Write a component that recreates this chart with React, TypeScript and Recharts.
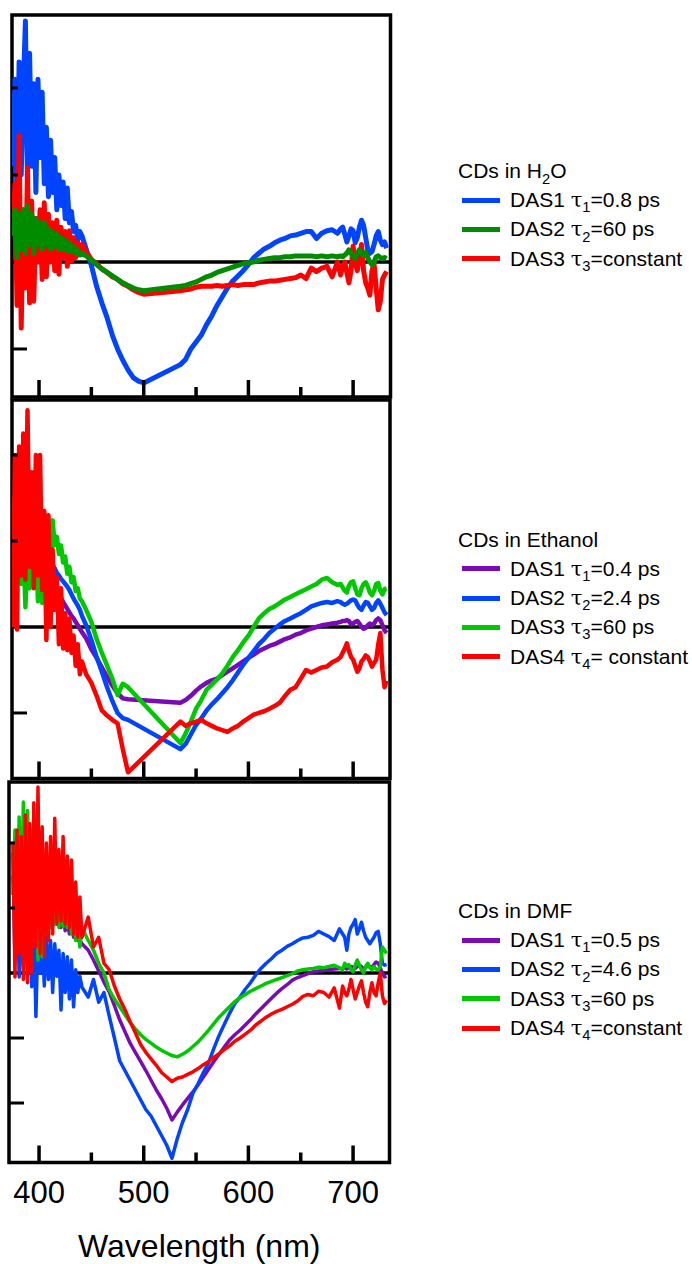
import React from 'react';
import { LineChart, Line, XAxis, YAxis, ReferenceLine, ReferenceArea, Legend } from 'recharts';

const FONT = '"Liberation Sans", Arial, Helvetica, sans-serif';

// ---------- wavelength grids (nm) ----------
const wavelengths12 = [
  375, 377, 379, 381, 383, 385, 387, 389, 391, 393, 395, 397, 399, 401, 403, 405, 407, 409, 411, 413,
  415, 417, 419, 421, 423, 425, 427, 429, 431, 433, 435, 437, 439, 441,
  445, 450, 455, 460, 465, 470, 475, 480, 485, 490, 495, 500, 505, 510, 515, 520, 525, 530, 535, 540,
  545, 550, 555, 560, 565, 570, 575, 580, 585, 590, 595, 600, 605, 610, 615, 620, 625, 630, 635, 640,
  645, 650, 655, 660, 665, 670, 675, 680, 685,
  688, 690, 692, 694, 696, 698, 700, 702, 704, 706, 708, 710, 712, 714, 716, 718, 720, 722, 724, 726,
  728, 730, 732,
];
const wavelengths3 = [
  375, 377, 379, 381, 383, 385, 387, 389, 391, 393, 395, 397, 399, 401, 403, 405, 407, 409, 411, 413,
  415, 417, 419, 421, 423, 425, 427, 429, 431, 433, 435, 437, 439, 441,
  447, 452, 457, 462, 467, 472, 477, 482, 487, 492, 497, 502, 507, 512, 517, 522, 527, 532, 537, 542,
  547, 552, 557, 562, 567, 572, 577, 582, 587, 592, 597, 602, 607, 612, 617, 622, 627, 632, 637, 642,
  647, 652, 657, 662, 667, 672, 677, 682, 687,
  690, 692, 694, 696, 698, 700, 702, 704, 706, 708, 710, 712, 714, 716, 718, 720, 722, 724, 726, 728,
  730, 732,
];

// ---------- CDs in H2O ----------
const h2oDas1 = [
  1.1, 2.1, 0.7, 2.3, 1.0, 2.0, 2.77, 0.9, 2.4, 1.1, 2.05, 0.8, 2.1, 1.2, 1.95, 0.9, 1.55, 0.75, 1.4, 0.8,
  1.2, 0.6, 1.0, 0.65, 0.92, 0.5, 0.85, 0.45, 0.58, 0.35, 0.42, 0.25, 0.35, 0.3,
  0.15, -0.04, -0.28, -0.47, -0.64, -0.84, -1.0, -1.13, -1.24, -1.33, -1.37, -1.39, null, null, null, null, null, null,
  -1.18, -1.12, -1.0, -0.92, -0.84, -0.72, -0.62, -0.5, -0.4, -0.3, -0.22, -0.16, -0.1, -0.03, 0.05, 0.1,
  0.15, 0.18, 0.22, 0.25, 0.27, 0.3, 0.31, 0.33, 0.35, 0.35, 0.27, 0.33, 0.36, 0.37, 0.33,
  0.38, 0.4, 0.32, 0.23, 0.3, 0.38, 0.36, 0.22, 0.28, 0.4, 0.48, 0.42, 0.28, 0.14, 0.1, 0.12, 0.2, 0.3,
  0.35, 0.25, 0.2, 0.23, 0.16,
];
const h2oDas2 = [
  0.3, 0.6, 0.05, 0.55, 0.15, 0.6, 0.1, 0.65, 0.2, 0.55, 0.1, 0.5, 0.2, 0.45, 0.15, 0.45, 0.2, 0.38, 0.15, 0.35,
  0.18, 0.32, 0.15, 0.28, 0.15, 0.25, 0.12, 0.22, 0.12, 0.18, 0.1, 0.14, 0.08, 0.1,
  0.07, 0.02, -0.03, -0.08, -0.12, -0.16, -0.2, -0.24, -0.27, -0.3, -0.32, -0.33, null, null, null, null, null, null,
  -0.28, -0.27, -0.25, -0.23, -0.2, -0.17, -0.15, -0.12, -0.1, -0.08, -0.06, -0.04, -0.02, -0.01, 0.0, 0.02,
  0.03, 0.04, 0.05, 0.05, 0.06, 0.06, 0.07, 0.07, 0.07, 0.07, 0.06, 0.07, 0.06, 0.07, 0.06,
  0.07, 0.06, 0.08, 0.1, 0.14, 0.1, 0.06, 0.04, 0.1, 0.14, 0.1, 0.08, 0.11, 0.05, 0.0, -0.03, 0.0, 0.06,
  0.07, 0.05, 0.04, 0.05, 0.04,
];
const h2oDas3 = [
  0.3, 0.9, -0.5, 1.46, -0.76, 0.6, -0.3, 1.08, -0.47, 0.7, -0.45, 0.5, 0.0, 0.6, -0.2, 0.68, -0.17, 0.55, 0.0, 0.45,
  -0.1, 0.48, -0.14, 0.4, 0.05, 0.35, -0.05, 0.36, 0.01, 0.28, 0.05, 0.22, 0.1, 0.2,
  0.12, 0.03, -0.02, -0.08, -0.12, -0.17, -0.2, -0.25, -0.28, -0.32, -0.35, -0.37, null, null, null, null, null, null,
  -0.33, -0.32, -0.31, -0.29, -0.28, -0.28, -0.28, -0.27, -0.28, -0.27, -0.26, -0.27, -0.26, -0.26, -0.26, -0.24,
  -0.23, -0.22, -0.22, -0.21, -0.2, -0.19, -0.18, -0.15, -0.19, -0.07, -0.11, -0.07, -0.05, -0.17, 0.0,
  -0.15, -0.05, 0.0, -0.12, -0.24, -0.1, 0.18, 0.0, -0.1, 0.05, 0.2, -0.1, -0.24, -0.3, -0.38, -0.1, -0.02, -0.3,
  -0.55, -0.45, -0.2, -0.15, -0.11,
];

// ---------- CDs in Ethanol ----------
const ethDas1 = [
  1.25, 1.1, 1.3, 1.15, 1.25, 1.05, 1.2, 1.0, 1.1, 0.95, 1.0, 0.9, 0.95, 0.85, 0.85, 0.8, 0.78, 0.74, 0.7, 0.62,
  0.55, 0.47, 0.4, 0.34, 0.29, 0.25, 0.21, 0.17, 0.13, 0.1, 0.06, 0.02, -0.02, -0.06,
  -0.13, -0.26, -0.36, -0.47, -0.58, -0.68, -0.77, -0.83, -0.84, null, null, null, null, null, null, null, null, null,
  -0.88, -0.85, -0.8, -0.74, -0.69, -0.65, -0.62, -0.6, -0.56, -0.52, -0.48, -0.44, -0.4, -0.36, -0.32, -0.28,
  -0.25, -0.22, -0.2, -0.17, -0.14, -0.12, -0.09, -0.07, -0.04, -0.02, 0.0, 0.02, 0.03, 0.04, 0.05,
  0.06, 0.07, 0.07, 0.08, 0.07, 0.03, 0.04, 0.06, 0.07, 0.04, 0.0, -0.02, -0.01, 0.02, 0.04, 0.02, 0.04, 0.08,
  0.1, 0.08, 0.02, -0.04, -0.07,
];
const ethDas2 = [
  1.3, 1.1, 1.35, 1.15, 1.3, 1.1, 1.25, 1.05, 1.2, 1.0, 1.1, 0.95, 1.05, 0.9, 0.95, 0.85, 0.85, 0.8, 0.76, 0.72,
  0.68, 0.63, 0.6, 0.56, 0.53, 0.5, 0.47, 0.43, 0.38, 0.33, 0.29, 0.25, 0.2, 0.13,
  0.02, -0.15, -0.35, -0.52, -0.7, -0.86, -1.0, -1.06, -1.08, null, null, null, null, null, null, null, null, null,
  -1.42, -1.36, -1.25, -1.14, -1.06, -0.97, -0.9, -0.84, -0.77, -0.7, -0.62, -0.53, -0.44, -0.36, -0.28, -0.2,
  -0.14, -0.07, -0.02, 0.03, 0.07, 0.1, 0.13, 0.16, 0.2, 0.24, 0.26, 0.28, 0.29, 0.28, 0.3,
  0.29, 0.27, 0.26, 0.27, 0.29, 0.31, 0.32, 0.31, 0.26, 0.22, 0.2, 0.25, 0.29, 0.28, 0.24, 0.2, 0.22, 0.28,
  0.31, 0.27, 0.22, 0.17, 0.14,
];
const ethDas3 = [
  0.9, 1.5, 0.6, 1.2, 0.5, 1.0, 0.23, 0.9, 0.45, 1.1, 0.6, 1.0, 0.3, 0.9, 0.28, 1.0, 0.7, 1.1, 0.8, 1.24,
  0.95, 1.05, 0.85, 0.95, 0.75, 0.82, 0.62, 0.7, 0.52, 0.58, 0.42, 0.45, 0.33, 0.3,
  0.2, 0.06, -0.14, -0.3, -0.45, -0.6, -0.79, -0.66, -0.7, null, null, null, null, null, null, null, null, null,
  -1.35, -1.24, -1.1, -0.95, -0.85, -0.73, -0.67, -0.61, -0.54, -0.45, -0.35, -0.27, -0.18, -0.1, 0.0, 0.1,
  0.16, 0.21, 0.24, 0.28, 0.32, 0.35, 0.38, 0.41, 0.44, 0.47, 0.5, 0.55, 0.57, 0.52, 0.49,
  0.5, 0.46, 0.42, 0.4, 0.48, 0.52, 0.53, 0.45, 0.38, 0.37, 0.45, 0.5, 0.52, 0.47, 0.4, 0.37, 0.42, 0.5,
  0.51, 0.42, 0.38, 0.44, 0.45,
];
const ethDas4 = [
  0.0, 2.0, -0.03, 2.1, 0.6, 2.25, 0.55, 2.52, 0.7, 1.8, 0.45, 2.0, 0.6, 2.0, 0.43, 1.35, -0.15, 1.3, 0.0, 0.9,
  0.2, 0.58, -0.2, 0.45, -0.25, 0.16, -0.27, 0.1, -0.3, -0.1, -0.45, -0.2, -0.55, -0.4,
  -0.55, -0.65, -0.8, -0.97, -1.03, -1.08, -1.12, -1.42, -1.69, null, null, null, null, null, null, null, null, null,
  -1.1, -1.15, -1.12, -1.1, -1.08, -1.12, -1.15, -1.18, -1.2, -1.22, -1.18, -1.15, -1.1, -1.06, -1.02, -1.0,
  -0.98, -0.95, -0.92, -0.88, -0.8, -0.73, -0.7, -0.6, -0.5, -0.53, -0.5, -0.47, -0.46, -0.41, -0.38,
  -0.35, -0.3, -0.25, -0.19, -0.28, -0.35, -0.38, -0.45, -0.52, -0.48, -0.4, -0.37, -0.33, -0.35, -0.4, -0.46, -0.42, -0.38,
  -0.2, -0.07, -0.5, -0.7, -0.62,
];

// ---------- CDs in DMF ----------
const dmfDas1 = [
  1.5, 0.8, 1.8, 0.6, 1.6, 0.9, 1.7, 0.8, 1.6, 0.9, 1.5, 0.8, 1.5, 0.9, 1.4, 0.9, 1.3, 0.8, 1.2, 0.8,
  1.1, 0.75, 1.0, 0.7, 0.9, 0.65, 0.8, 0.6, 0.7, 0.55, 0.6, 0.5, 0.5, 0.45,
  0.35, 0.2, 0.03, -0.14, -0.29, -0.5, -0.72, -0.9, -1.08, -1.22, -1.36, -1.5, -1.65, -1.8, -1.93, -2.08, -2.26, -2.14,
  -2.03, -1.93, -1.83, -1.72, -1.6, -1.48, -1.36, -1.25, -1.14, -1.03, -0.95, -0.88, -0.8, -0.72, -0.63, -0.55,
  -0.47, -0.39, -0.31, -0.24, -0.18, -0.11, -0.07, -0.04, -0.01, 0.02, 0.03, 0.04, 0.05, 0.06, 0.07,
  0.07, 0.08, 0.06, 0.08, 0.1, 0.09, 0.07, 0.1, 0.12, 0.1, 0.06, 0.08, 0.12, 0.1, 0.08, 0.13, 0.17, 0.15,
  0.08, 0.0, -0.06, -0.05,
];
const dmfDas2 = [
  1.85, 0.2, 1.5, -0.06, 1.0, 0.1, 1.1, 0.0, 0.9, -0.21, 0.8, -0.67, 0.6, 0.0, 0.62, -0.2, 0.55, -0.1, 0.5, -0.3,
  0.45, -0.05, 0.35, -0.57, 0.3, -0.3, 0.25, -0.4, 0.2, -0.52, 0.05, -0.3, -0.05, -0.22,
  -0.37, -0.1, -0.45, -0.3, -0.66, -1.0, -1.35, -1.5, -1.65, -1.8, -1.95, -2.1, -2.2, -2.35, -2.5, -2.65, -2.85, -2.55,
  -2.3, -2.1, -1.85, -1.7, -1.53, -1.38, -1.16, -0.96, -0.79, -0.62, -0.47, -0.37, -0.25, -0.15, -0.03, 0.07,
  0.15, 0.22, 0.3, 0.35, 0.41, 0.45, 0.5, 0.54, 0.55, 0.58, 0.64, 0.6, 0.56, 0.5, 0.68,
  0.6, 0.55, 0.35, 0.6, 0.7, 0.75, 0.82, 0.6, 0.68, 0.78, 0.65, 0.55, 0.5, 0.45, 0.5, 0.55, 0.62, 0.64,
  0.45, 0.15, 0.12, 0.13,
];
const dmfDas3 = [
  1.2, 2.2, 0.5, 2.4, 0.8, 2.63, 0.6, 2.5, 0.9, 2.2, 0.5, 2.0, 0.2, 2.1, 0.25, 1.8, 0.6, 1.7, 0.7, 1.6,
  0.75, 1.5, 0.7, 1.4, 0.72, 1.2, 0.7, 1.1, 0.6, 0.95, 0.5, 0.8, 0.4, 0.7,
  0.5, 0.35, 0.15, 0.0, -0.26, -0.4, -0.52, -0.64, -0.76, -0.86, -0.95, -1.02, -1.08, -1.14, -1.19, -1.23, -1.27, -1.29,
  -1.25, -1.2, -1.13, -1.06, -0.97, -0.88, -0.78, -0.68, -0.6, -0.52, -0.44, -0.38, -0.33, -0.28, -0.24, -0.2,
  -0.16, -0.13, -0.1, -0.07, -0.04, -0.01, 0.03, 0.05, 0.06, 0.07, 0.09, 0.08, 0.1, 0.12, 0.08,
  0.05, 0.15, 0.1, 0.13, 0.05, 0.02, 0.12, 0.2, 0.12, 0.05, 0.0, 0.1, 0.15, 0.08, 0.05, 0.1, 0.06, 0.05,
  0.1, 0.4, 0.35, 0.3,
];
const dmfDas4 = [
  2.0, -0.06, 2.2, 0.3, 2.1, -0.1, 2.43, -0.15, 2.3, 0.0, 2.62, 0.4, 2.86, 0.3, 2.25, 0.25, 2.0, 0.5, 2.1, 0.6,
  2.38, 0.77, 1.9, 0.8, 2.1, 0.75, 1.8, 0.7, 1.74, 0.6, 1.4, 0.55, 1.17, 0.55,
  0.86, 0.4, 0.55, 0.15, 0.05, -0.2, -0.4, -0.56, -0.75, -0.92, -1.1, -1.22, -1.32, -1.42, -1.53, -1.6, -1.67, -1.62,
  -1.6, -1.56, -1.52, -1.47, -1.41, -1.36, -1.3, -1.24, -1.18, -1.12, -1.05, -1.0, -0.94, -0.88, -0.8, -0.74,
  -0.68, -0.63, -0.59, -0.56, -0.52, -0.48, -0.43, -0.36, -0.33, -0.35, -0.28, -0.3, -0.37, -0.23, -0.54,
  -0.2, -0.3, -0.35, -0.25, -0.1, -0.25, -0.4, -0.3, -0.2, -0.12, -0.3, -0.45, -0.52, -0.3, -0.15, -0.3, -0.35, -0.15,
  0.0, -0.35, -0.47, -0.42,
];

// ---------- ticks & legend text ----------
const xTicks = [400, 450, 500, 550, 600, 650, 700];
const yTicksTop = [-1, 1, 2];
const yTicksMid = [-1, 1, 2];
const yTicksBottom = [-2, -1, 1, 2];

const h2oNames = ['DAS1', 'DAS2', 'DAS3'];
const h2oTauIdx = ['1', '2', '3'];
const h2oTaus = ['=0.8 ps', '=60 ps', '=constant'];
const ethNames = ['DAS1', 'DAS2', 'DAS3', 'DAS4'];
const ethTauIdx = ['1', '2', '3', '4'];
const ethTaus = ['=0.4 ps', '=2.4 ps', '=60 ps', '= constant'];
const dmfNames = ['DAS1', 'DAS2', 'DAS3', 'DAS4'];
const dmfTauIdx = ['1', '2', '3', '4'];
const dmfTaus = ['=0.5 ps', '=4.6 ps', '=60 ps', '=constant'];

const BLUE = '#0044ff';
const GREEN_DARK = '#008c00';
const GREEN = '#00c800';
const RED = '#ff0000';
const PURPLE = '#7a0ab4';

function buildRows(wl: number[], series: Record<string, (number | null)[]>) {
  return wl.map((w, i) => {
    const row: any = { wl: w };
    Object.keys(series).forEach((k) => {
      row[k] = series[k][i];
    });
    return row;
  });
}

const h2oRows = buildRows(wavelengths12, { s1: h2oDas1, s2: h2oDas2, s3: h2oDas3 });
const ethRows = buildRows(wavelengths12, { s1: ethDas1, s2: ethDas2, s3: ethDas3, s4: ethDas4 });
const dmfRows = buildRows(wavelengths3, { s1: dmfDas1, s2: dmfDas2, s3: dmfDas3, s4: dmfDas4 });

const Sub = ({ children }: any) => (
  <span style={{ fontSize: '0.7em', position: 'relative', top: '0.35em', lineHeight: 0 }}>{children}</span>
);

function makeLegend(title: React.ReactNode, names: string[], idx: string[], taus: string[], colors: string[]) {
  return () => (
    <div style={{ fontFamily: FONT, fontSize: 21, color: '#000', lineHeight: '29.3px', whiteSpace: 'nowrap' }}>
      <div>{title}</div>
      {names.map((n, i) => (
        <div key={n} style={{ display: 'flex', alignItems: 'center', height: 29.3 }}>
          <span style={{ display: 'inline-block', width: 38, height: 5, background: colors[i], marginLeft: 4, marginRight: 10 }} />
          <span>
            {n} <span style={{ fontFamily: '"DejaVu Serif", serif' }}>τ</span>
            <Sub>{idx[i]}</Sub>
            {taus[i]}
          </span>
        </div>
      ))}
    </div>
  );
}

const XTick = (props: any) => {
  const { x, y, payload, showLabel } = props;
  const major = payload.value % 100 === 0;
  return (
    <g>
      <line x1={x} x2={x} y1={y} y2={y - (major ? 17 : 10)} stroke="#000" strokeWidth={3.5} />
      {showLabel && major ? (
        <text x={x} y={y + 40.5} textAnchor="middle" fontSize={31} fontFamily={FONT} fill="#000">
          {payload.value}
        </text>
      ) : null}
    </g>
  );
};

const YTick = (props: any) => {
  const { x, y, payload } = props;
  const len = payload.value > 0 ? 6 : 15;
  return <line x1={x} x2={x + len} y1={y} y2={y} stroke="#000" strokeWidth={3} />;
};

type SeriesDef = { key: string; color: string };

function Panel(props: {
  top: number;
  height: number;
  marginTop: number;
  plotLeft: number;
  plotRight: number;
  xAxisHeight: number;
  xDomain: [number, number];
  yDomain: [number, number];
  yTicks: number[];
  data: any[];
  series: SeriesDef[];
  strokeWidth: number;
  legend: () => React.ReactElement;
  legendTop: number;
  showLabels: boolean;
}) {
  const p = props;
  return (
    <div style={{ position: 'absolute', left: 0, top: p.top, width: 692, height: p.height }}>
      <LineChart
        width={692}
        height={p.height}
        data={p.data}
        margin={{ top: p.marginTop, right: 692 - p.plotRight, bottom: 0, left: 0 }}
      >
        <XAxis
          dataKey="wl"
          type="number"
          domain={p.xDomain}
          ticks={xTicks}
          interval={0}
          allowDataOverflow
          height={p.xAxisHeight}
          axisLine={false}
          tickLine={false}
          tickSize={0}
          tickMargin={0}
          tick={(tp: any) => <XTick {...tp} showLabel={p.showLabels} />}
          label={
            p.showLabels
              ? {
                  content: (lp: any) => {
                    const vb = lp.viewBox || {};
                    return (
                      <text
                        x={vb.x + vb.width / 2}
                        y={vb.y + 94}
                        textAnchor="middle"
                        fontSize={32}
                        fontFamily={FONT}
                        fill="#000"
                      >
                        Wavelength (nm)
                      </text>
                    );
                  },
                }
              : undefined
          }
        />
        <YAxis
          type="number"
          domain={p.yDomain}
          ticks={p.yTicks}
          interval={0}
          allowDataOverflow
          width={p.plotLeft}
          axisLine={false}
          tickLine={false}
          tickSize={0}
          tickMargin={0}
          tick={(tp: any) => <YTick {...tp} />}
        />
        <ReferenceLine y={0} stroke="#000" strokeWidth={3.5} ifOverflow="visible" />
        {p.series.map((s) => (
          <Line
            key={s.key}
            dataKey={s.key}
            type="linear"
            stroke={s.color}
            strokeWidth={p.strokeWidth}
            strokeLinejoin="round"
            dot={false}
            activeDot={false}
            connectNulls
            isAnimationActive={false}
          />
        ))}
        <ReferenceArea
          x1={p.xDomain[0]}
          x2={p.xDomain[1]}
          y1={p.yDomain[0]}
          y2={p.yDomain[1]}
          fill="none"
          fillOpacity={0}
          stroke="#000"
          strokeWidth={3.5}
          ifOverflow="visible"
        />
        <Legend
          layout="horizontal"
          verticalAlign="middle"
          align="center"
          wrapperStyle={{ left: 458, top: p.legendTop, width: 234 }}
          content={p.legend}
        />
      </LineChart>
    </div>
  );
}

export default function App() {
  return (
    <div style={{ position: 'absolute', left: 0, top: 0, width: 692, height: 1264, background: '#fff' }}>
      <Panel
        top={0}
        height={400}
        marginTop={15}
        plotLeft={12}
        plotRight={390.5}
        xAxisHeight={3}
        xDomain={[374.2, 735.7]}
        yDomain={[-1.552, 2.839]}
        yTicks={yTicksTop}
        data={h2oRows}
        series={[
          { key: 's1', color: BLUE },
          { key: 's3', color: RED },
          { key: 's2', color: GREEN_DARK },
        ]}
        strokeWidth={5}
        legend={makeLegend(
          <span>
            CDs in H<Sub>2</Sub>O
          </span>,
          h2oNames,
          h2oTauIdx,
          h2oTaus,
          [BLUE, GREEN_DARK, RED]
        )}
        legendTop={156.4}
        showLabels={false}
      />
      <Panel
        top={390}
        height={392}
        marginTop={10}
        plotLeft={12}
        plotRight={390}
        xAxisHeight={3.5}
        xDomain={[374.2, 735.2]}
        yDomain={[-1.762, 2.64]}
        yTicks={yTicksMid}
        data={ethRows}
        series={[
          { key: 's1', color: PURPLE },
          { key: 's2', color: BLUE },
          { key: 's3', color: GREEN },
          { key: 's4', color: RED },
        ]}
        strokeWidth={4.5}
        legend={makeLegend(<span>CDs in Ethanol</span>, ethNames, ethTauIdx, ethTaus, [PURPLE, BLUE, GREEN, RED])}
        legendTop={134.9}
        showLabels={false}
      />
      <Panel
        top={770}
        height={494}
        marginTop={12}
        plotLeft={9}
        plotRight={389.5}
        xAxisHeight={101.5}
        xDomain={[371.3, 734.8]}
        yDomain={[-2.915, 2.938]}
        yTicks={yTicksBottom}
        data={dmfRows}
        series={[
          { key: 's1', color: PURPLE },
          { key: 's2', color: BLUE },
          { key: 's3', color: GREEN },
          { key: 's4', color: RED },
        ]}
        strokeWidth={3.5}
        legend={makeLegend(<span>CDs in DMF</span>, dmfNames, dmfTauIdx, dmfTaus, [PURPLE, BLUE, GREEN, RED])}
        legendTop={126.4}
        showLabels={true}
      />
    </div>
  );
}
